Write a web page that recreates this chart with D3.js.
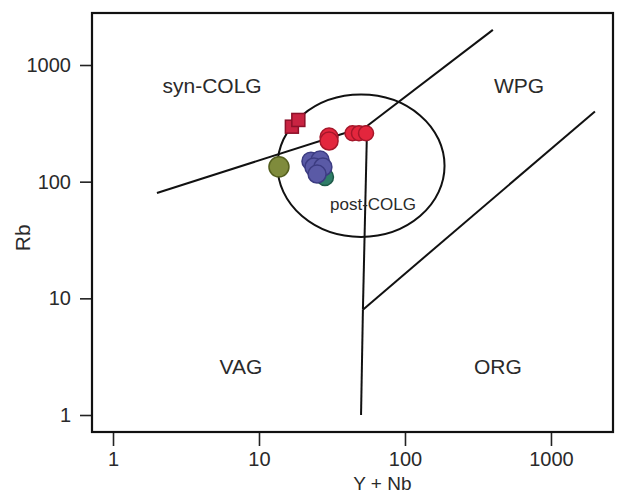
<!DOCTYPE html>
<html>
<head>
<meta charset="utf-8">
<script src="https://cdn.jsdelivr.net/npm/d3@7/dist/d3.min.js"></script>
<style>
  html, body { margin: 0; padding: 0; background: #fff; }
  svg { display: block; }
  text { font-family: "Liberation Sans", Arial, sans-serif; fill: #2a2a2a; }
</style>
</head>
<body>
<script>
// Rb vs (Y + Nb) tectonic discrimination diagram for granites (log-log)

// Axis ticks
const xTicks = [1, 10, 100, 1000];
const yTicks = [1, 10, 100, 1000];

// Field boundaries, [Y+Nb, Rb]
const synColgVag = [[2, 80], [55, 300]];
const wpgSynColg = [[55, 300], [400, 2000]];
const vagWpg = [[55, 300], [51.5, 8]];
const vagOrg = [[51.5, 8], [50, 1]];
const wpgOrg = [[51.5, 8], [2000, 400]];

// post-COLG field: centre [Y+Nb, Rb] and radii in decades
const postColgCentre = [50, 137];
const postColgRadii = [0.572, 0.61];

// Field names and their anchor points [Y+Nb, Rb]
const fieldNames = ["syn-COLG", "WPG", "post-COLG", "VAG", "ORG"];
const fieldAnchors = [[4.77, 648], [604, 648], [60.4, 63], [7.53, 2.53], [433, 2.53]];

// Samples
const teal = [[28.3, 109.6]];
const olive = [[13.7, 134]];
const blue = [[22.7, 150], [26.2, 153], [23.8, 133.6], [27.4, 133.6], [25.0, 116.3]];
const redSquares = [[16.8, 296], [18.6, 338]];
const redCircles = [[30.2, 241], [30.2, 223], [43.7, 260], [48.4, 260], [54.1, 260]];

const W = 617, H = 494;
const svg = d3.select("body").append("svg").attr("width", W).attr("height", H);

const mLeft = 92, mRight = 613, mTop = 13, mBottom = 432;
const x = d3.scaleLog().domain([0.718, 2660]).range([mLeft, mRight]);
const y = d3.scaleLog().domain([0.715, 2791]).range([mBottom, mTop]);

const tickFont = 20;

// Axes
const xAxis = d3.axisBottom(x).tickValues(xTicks).tickFormat(d3.format("d")).tickSize(14).tickSizeOuter(0);
const yAxis = d3.axisLeft(y).tickValues(yTicks).tickFormat(d3.format("d")).tickSize(12).tickSizeOuter(0);

const gx = svg.append("g").attr("transform", `translate(0,${mBottom})`).call(xAxis);
gx.select(".domain").remove();
gx.selectAll(".tick line").attr("stroke", "#222").attr("stroke-width", 1.6);
gx.selectAll(".tick text").attr("font-size", tickFont).attr("dy", "0.71em").attr("y", 20)
  .attr("font-family", "Liberation Sans, Arial, sans-serif").attr("fill", "#333");

const gy = svg.append("g").attr("transform", `translate(${mLeft},0)`).call(yAxis);
gy.select(".domain").remove();
gy.selectAll(".tick line").attr("stroke", "#222").attr("stroke-width", 1.6);
gy.selectAll(".tick text").attr("font-size", tickFont).attr("x", -21)
  .attr("font-family", "Liberation Sans, Arial, sans-serif").attr("fill", "#333");

// Frame
svg.append("rect").attr("x", mLeft).attr("y", mTop)
  .attr("width", mRight - mLeft).attr("height", mBottom - mTop)
  .attr("fill", "none").attr("stroke", "#111").attr("stroke-width", 2.2);

// Axis titles
svg.append("text").attr("x", x(70)).attr("y", 489.5)
  .attr("text-anchor", "middle").attr("font-size", 19).attr("fill", "#333").text("Y + Nb");
svg.append("text").attr("transform", `translate(30,${y(33)}) rotate(-90)`)
  .attr("text-anchor", "middle").attr("font-size", 21).attr("fill", "#333").text("Rb");

// Boundaries
const line = d3.line().x(d => x(d[0])).y(d => y(d[1]));
[synColgVag, wpgSynColg, vagWpg, vagOrg, wpgOrg].forEach(seg => {
  svg.append("path").datum(seg).attr("d", line)
    .attr("fill", "none").attr("stroke", "#111").attr("stroke-width", 2);
});

// post-COLG field
const cx = x(postColgCentre[0]), cy = y(postColgCentre[1]);
svg.append("ellipse")
  .attr("cx", cx).attr("cy", cy)
  .attr("rx", x(postColgCentre[0] * Math.pow(10, postColgRadii[0])) - cx)
  .attr("ry", cy - y(postColgCentre[1] * Math.pow(10, postColgRadii[1])))
  .attr("fill", "none").attr("stroke", "#111").attr("stroke-width", 2);

// Field labels
const labelSizes = [21, 21, 17, 21, 21];
svg.selectAll(".field").data(fieldNames).enter().append("text")
  .attr("class", "field")
  .attr("x", (d, i) => x(fieldAnchors[i][0]))
  .attr("y", (d, i) => y(fieldAnchors[i][1]))
  .attr("text-anchor", "middle").attr("dominant-baseline", "middle")
  .attr("font-size", (d, i) => labelSizes[i])
  .attr("fill", (d, i) => i === 2 ? "#1e2a50" : "#2a2a2a")
  .text(d => d);

// Samples
function circles(data, r, fill, stroke) {
  svg.append("g").selectAll("circle").data(data).enter().append("circle")
    .attr("cx", d => x(d[0])).attr("cy", d => y(d[1])).attr("r", r)
    .attr("fill", fill).attr("stroke", stroke).attr("stroke-width", 1.5);
}
circles(teal, 8.5, "#2f7d68", "#1d5a48");
circles(blue, 9, "#5a5aa6", "#3c3c82");
circles(olive, 10, "#7f8b3c", "#55601f");
circles(redCircles.slice(0, 2), 9, "#e3263d", "#a5172a");
circles(redCircles.slice(2), 7.5, "#e3263d", "#a5172a");

const s = 13;
svg.append("g").selectAll("rect").data(redSquares).enter().append("rect")
  .attr("x", d => x(d[0]) - s / 2).attr("y", d => y(d[1]) - s / 2)
  .attr("width", s).attr("height", s)
  .attr("fill", "#c92442").attr("stroke", "#8c1129").attr("stroke-width", 1.5);
</script>
</body>
</html>
